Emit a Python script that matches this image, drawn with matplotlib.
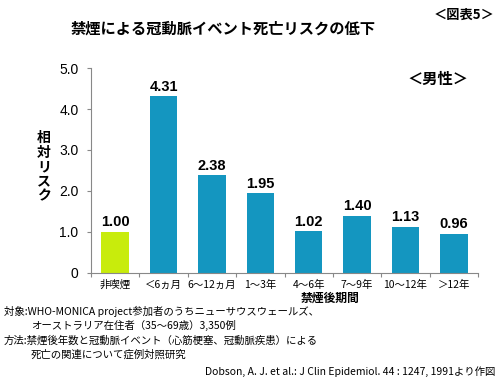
import matplotlib
matplotlib.use("Agg")
import matplotlib.pyplot as plt
import numpy as np

plt.rcParams['font.family'] = ['Noto Sans CJK JP', 'DejaVu Sans']

categories = ["非喫煙", "＜6ヵ月", "6～12ヵ月", "1～3年", "4～6年", "7～9年", "10～12年", "＞12年"]
risk = [1.00, 4.31, 2.38, 1.95, 1.02, 1.40, 1.13, 0.96]
value_labels = ["1.00", "4.31", "2.38", "1.95", "1.02", "1.40", "1.13", "0.96"]
y_ticks = [0, 1.0, 2.0, 3.0, 4.0, 5.0]
y_tick_labels = ["0", "1.0", "2.0", "3.0", "4.0", "5.0"]

colors = ["#c8ec0c"] + ["#1496c0"] * (len(categories) - 1)

fig = plt.figure(figsize=(5, 3.78), dpi=100)
ax = fig.add_axes([0.182, 0.278, 0.774, 0.542])

x = np.arange(len(categories))
ax.bar(x, risk, width=0.57, color=colors, zorder=2)
for xi, v, lab in zip(x, risk, value_labels):
    ax.text(xi, v + 0.06, lab, ha="center", va="bottom", fontsize=10.5,
            fontweight="bold", family=["Liberation Sans", "DejaVu Sans"])

ax.set_xlim(-0.5, len(categories) - 0.5)
ax.set_ylim(0, 5.0)
ax.set_yticks(y_ticks)
ax.set_yticklabels(y_tick_labels, fontsize=10, family=["Liberation Sans", "DejaVu Sans"])
ax.set_xticks(np.arange(len(categories) + 1) - 0.5)
ax.set_xticklabels([])
ax.set_xticks(x, minor=True)
ax.set_xticklabels(categories, minor=True, fontsize=7.5)
ax.tick_params(axis="x", which="minor", length=0, pad=5)
ax.tick_params(axis="x", which="major", length=3, color="#888888")
ax.tick_params(axis="y", length=3, color="#888888", pad=6)

for s in ["top", "right"]:
    ax.spines[s].set_visible(False)
for s in ["left", "bottom"]:
    ax.spines[s].set_color("#888888")

fig.text(0.446, 0.925, "禁煙による冠動脈イベント死亡リスクの低下", ha="center", va="center",
         fontsize=11, fontweight="bold")
fig.text(0.99, 0.962, "＜図表5＞", ha="right", va="center", fontsize=9.5, fontweight="bold")
fig.text(0.875, 0.79, "＜男性＞", ha="center", va="center", fontsize=11, fontweight="bold")
fig.text(0.088, 0.558, "\n".join("相対リスク"), ha="center", va="center", fontsize=10,
         fontweight="bold", linespacing=1.05)
fig.text(0.66, 0.212, "禁煙後期間", ha="center", va="center", fontsize=8.5, fontweight="bold")

notes = [
    (0.008, 0.177, "対象:WHO-MONICA project参加者のうちニューサウスウェールズ、"),
    (0.062, 0.138, "オーストラリア在住者（35～69歳）3,350例"),
    (0.008, 0.098, "方法:禁煙後年数と冠動脈イベント（心筋梗塞、冠動脈疾患）による"),
    (0.062, 0.061, "死亡の関連について症例対照研究"),
]
for nx, ny, t in notes:
    fig.text(nx, ny, t, ha="left", va="center", fontsize=7.5)
fig.text(0.99, 0.016, "Dobson, A. J. et al.: J Clin Epidemiol. 44 : 1247, 1991より作図",
         ha="right", va="center", fontsize=7.5)

fig.savefig("out.png", dpi=100)
